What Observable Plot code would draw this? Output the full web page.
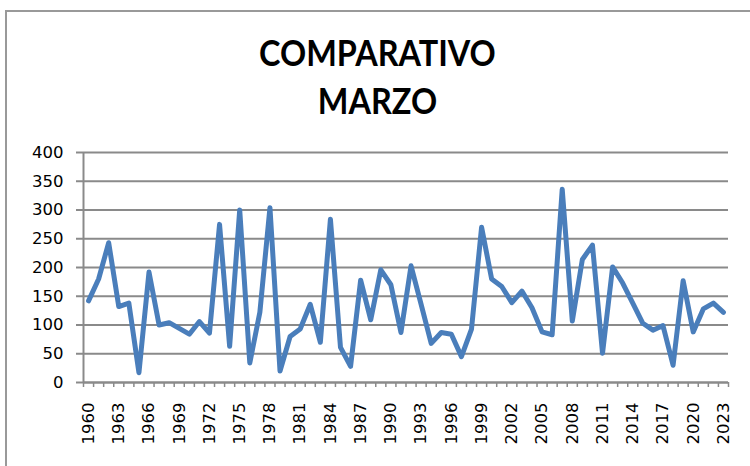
<!DOCTYPE html>
<html>
<head>
<meta charset="utf-8">
<script src="https://cdn.jsdelivr.net/npm/d3@7"></script>
<script src="https://cdn.jsdelivr.net/npm/@observablehq/plot@0.6"></script>
<style>
  html, body { margin: 0; padding: 0; background: #fff; }
  #wrap { position: relative; width: 750px; height: 466px; overflow: hidden; }
  #frame { position: absolute; left: 5px; top: 10px; width: 900px; height: 600px;
           border-left: 2px solid #999; border-top: 2px solid #999; box-sizing: border-box; }
  .title { position: absolute; left: 0; width: 755px; text-align: center;
           font-family: Lato, "Open Sans", sans-serif; font-weight: 700; font-size: 36px;
           color: #000; line-height: 1; transform: scaleX(0.9); transform-origin: 377px 0; }
  #chart { position: absolute; left: 0; top: 0; }
</style>
</head>
<body>
<div id="wrap">
  <div id="frame"></div>
  <div id="chart"></div>
  <div class="title" id="t1" style="top:34px">COMPARATIVO</div>
  <div class="title" id="t2" style="top:82px">MARZO</div>
</div>
<script>
const years = d3.range(1960, 2024);
const values = [
  142, 180, 243, 132, 138, 17, 192, 100, 104, 94,
  84, 106, 86, 275, 63, 300, 34, 122, 304, 20,
  80, 93, 136, 70, 284, 61, 28, 178, 109, 196,
  170, 87, 203, 136, 68, 87, 84, 45, 93, 270,
  180, 167, 139, 159, 130, 88, 83, 336, 107, 214,
  239, 51, 201, 173, 138, 103, 91, 99, 30, 177,
  88, 128, 138, 122
];
const yTicks = [0, 50, 100, 150, 200, 250, 300, 350, 400];
const labelYears = d3.range(1960, 2024, 3);
const boundaries = d3.range(1959.5, 2024, 1);

const data = years.map((y, i) => ({year: y, value: values[i]}));

const chart = Plot.plot({
  width: 750,
  height: 466,
  marginLeft: 83,
  marginRight: 22,
  marginTop: 152,
  marginBottom: 84,
  style: {fontFamily: "DejaVu Sans, sans-serif", fontSize: "16.5px", color: "#000", background: "transparent", overflow: "visible"},
  x: {domain: [1959.5, 2023.5], axis: null},
  y: {domain: [0, 400], axis: null},
  marks: [
    Plot.gridY(yTicks, {stroke: "#8a8a8a", strokeOpacity: 1, strokeWidth: 2}),
    Plot.axisY({ticks: yTicks, tickSize: 7, tickPadding: 13, stroke: "#8a8a8a", strokeWidth: 2, fill: "#000", label: null}),
    Plot.axisX({ticks: boundaries, tickSize: 5, tickFormat: () => "", stroke: "#8a8a8a", strokeWidth: 1.5, label: null}),
    Plot.axisX({ticks: labelYears, tickSize: 0, tickPadding: 20, tickRotate: -90, tickFormat: d => String(d), fill: "#000", label: null}),
    Plot.ruleX([1959.5], {stroke: "#8a8a8a", strokeWidth: 2}),
    Plot.ruleY([0], {stroke: "#8a8a8a", strokeWidth: 2}),
    Plot.line(data, {x: "year", y: "value", stroke: "#4a7ebb", strokeWidth: 5, strokeLinejoin: "round", strokeLinecap: "round"})
  ]
});
document.getElementById("chart").appendChild(chart);
</script>
</body>
</html>
